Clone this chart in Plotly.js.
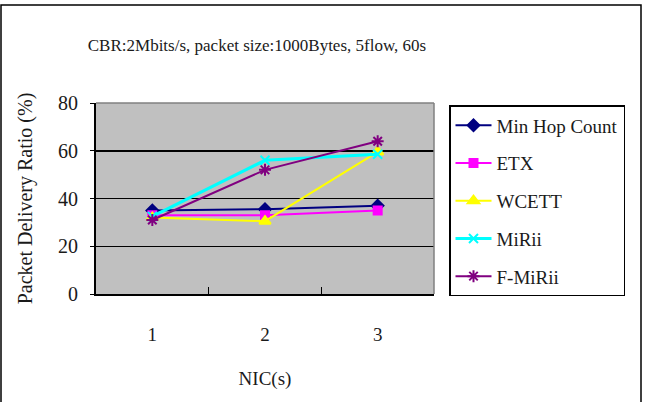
<!DOCTYPE html>
<html>
<head>
<meta charset="utf-8">
<script src="https://cdn.plot.ly/plotly-3.0.1.min.js"></script>
<style>
  html, body { margin: 0; padding: 0; background: #fff; }
  #chart { width: 648px; height: 402px; }
</style>
</head>
<body>
<div id="chart"></div>
<script>
// Number of NICs per node
const nics = ['1', '2', '3'];

// Packet delivery ratio (%) for each routing metric
const minHopCount = [35, 35.5, 37];
const etx         = [33, 33, 35];
const wcett       = [32, 30.5, 59.5];
const mirii       = [32.5, 56, 58.5];
const fMirii      = [31, 52, 64];

const seriesNames = ['Min Hop Count', 'ETX', 'WCETT', 'MiRii', 'F-MiRii'];
const seriesData  = [minHopCount, etx, wcett, mirii, fMirii];

const styles = [
  { color: '#000080', symbol: 'diamond',          size: 9,  width: 2 },
  { color: '#ff00ff', symbol: 'square',           size: 8,  width: 2 },
  { color: '#ffff00', symbol: 'triangle-up',      size: 10, width: 2 },
  { color: '#00ffff', symbol: 'x-thin-open',      size: 9,  width: 3 },
  { color: '#800080', symbol: 'asterisk-open',    size: 10, width: 2 }
];

const traces = seriesNames.map((name, i) => ({
  type: 'scatter',
  mode: 'lines+markers',
  name: name,
  legendgroup: 'g' + i,
  x: nics,
  y: seriesData[i],
  line: { color: styles[i].color, width: styles[i].width },
  marker: {
    color: styles[i].color,
    symbol: styles[i].symbol,
    size: styles[i].size,
    line: { color: styles[i].color, width: 2 }
  }
}));

const serif = 'Liberation Serif';

// plot area: x 96..434, y 103..294
const L = 96, R = 648 - 434, T = 103, B = 402 - 294;
const pw = 648 - L - R, ph = 402 - T - B;

const layout = {
  width: 648,
  height: 402,
  margin: { l: L, r: R, t: T, b: B },
  paper_bgcolor: '#ffffff',
  plot_bgcolor: '#c0c0c0',
  font: { family: serif, color: '#1a1a1a', size: 19 },
  title: {
    text: 'CBR:2Mbits/s, packet size:1000Bytes, 5flow, 60s',
    font: { family: serif, size: 17, color: '#1a1a1a' },
    x: 257 / 648,
    xanchor: 'center',
    y: 1 - 45 / 402,
    yanchor: 'middle'
  },
  xaxis: {
    type: 'category',
    range: [-0.5, 2.5],
    tickson: 'boundaries',
    ticks: 'inside',
    ticklen: 7,
    tickwidth: 1.5,
    tickcolor: '#000',
    showline: true,
    linecolor: '#000',
    linewidth: 2,
    showgrid: false,
    zeroline: false,
    ticklabelstandoff: 22,
    tickfont: { family: serif, size: 19 },
    title: { text: 'NIC(s)', font: { family: serif, size: 19 }, standoff: 28 }
  },
  yaxis: {
    range: [0, 80],
    tickvals: [0, 20, 40, 60, 80],
    ticks: 'outside',
    ticklen: 4,
    tickcolor: '#000',
    showline: true,
    linecolor: '#000',
    linewidth: 2,
    showgrid: true,
    gridcolor: '#000',
    gridwidth: 1.5,
    zeroline: false,
    ticklabelstandoff: 8,
    tickfont: { family: serif, size: 20 },
    title: { text: 'Packet Delivery Ratio (%)', font: { family: serif, size: 20 }, standoff: 20 }
  },
  legend: {
    x: (449 - L) / pw,
    xanchor: 'left',
    y: (294 - 105) / ph,
    yanchor: 'top',
    bgcolor: '#ffffff',
    bordercolor: '#000',
    borderwidth: 1.5,
    font: { family: serif, size: 19, color: '#1a1a1a' },
    tracegroupgap: 10,
    itemwidth: 36,
    traceorder: 'grouped'
  },
  shapes: [
    // plot-area frame on the top and right
    { type: 'line', xref: 'paper', yref: 'paper', x0: 0, x1: 1, y0: 1, y1: 1,
      line: { color: '#808080', width: 1.5 } },
    { type: 'line', xref: 'paper', yref: 'paper', x0: 1, x1: 1, y0: 0, y1: 1,
      line: { color: '#808080', width: 1.5 } },
    // chart border
    { type: 'rect', xref: 'paper', yref: 'paper',
      x0: (1 - L) / pw, x1: (641 - L) / pw,
      y0: (294 - 410) / ph, y1: (294 - 5) / ph,
      line: { color: '#000', width: 1.5 }, layer: 'below' }
  ],
  showlegend: true
};

Plotly.newPlot('chart', traces, layout, { displayModeBar: false, staticPlot: true });
</script>
</body>
</html>
